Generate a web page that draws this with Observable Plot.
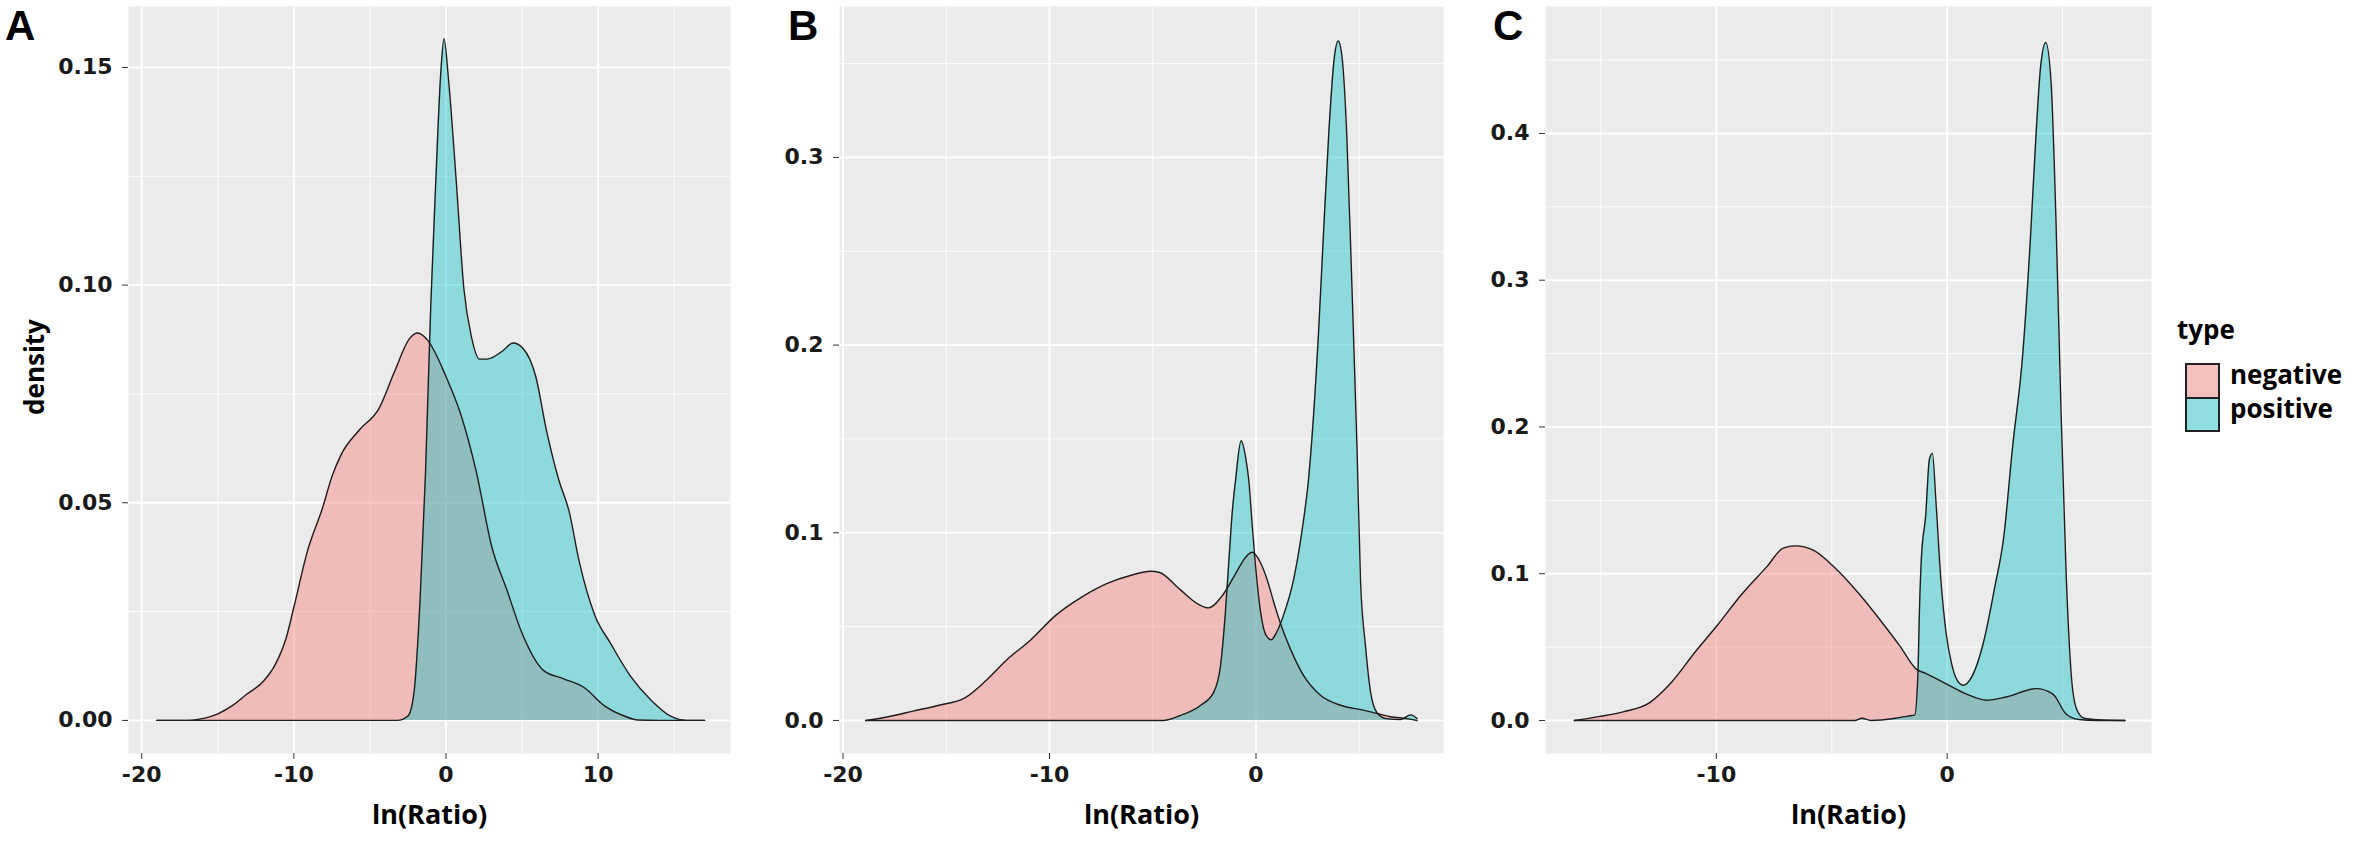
<!DOCTYPE html>
<html>
<head>
<meta charset="utf-8">
<script src="https://cdn.jsdelivr.net/npm/d3@7"></script>
<script src="https://cdn.jsdelivr.net/npm/@observablehq/plot@0.6"></script>
<style>
  body { margin: 0; background: #fff; }
  #root { position: relative; width: 2369px; height: 854px; overflow: hidden; background: #fff; }
  .panel { position: absolute; top: 0; }
  .letter { position: absolute; top: 2px; font-family: "Liberation Sans", Arial, sans-serif; font-weight: bold; font-size: 42px; line-height: normal; color: #000; }
  .legend-title { position: absolute; font-family: "Open Sans", sans-serif; font-weight: bold; font-size: 26px; color: #000; line-height: 1; }
  .legend-label { position: absolute; font-family: "Open Sans", sans-serif; font-weight: bold; font-size: 26px; color: #000; line-height: 1; }
  .key { position: absolute; box-sizing: border-box; border: 2px solid #222; }
</style>
</head>
<body>
<div id="root"></div>
<script>
// ---------- data ----------
const types = ["negative", "positive"];
const typeColors = ["#F8766D", "#00BFC4"];

// Panel A
const aNegX = [-19, -17, -16.2, -15, -14, -13.1, -12, -11.2, -10.5, -10, -9.1, -8.1, -7.5, -6.9, -5.7, -4.4, -3.4, -2.4, -1.85, -1.2, 0, 1, 2, 3, 4, 5, 6.4, 7.7, 9.1, 10.4, 11.8, 12.6, 14, 17];
const aNegY = [0, 0, 0.0003, 0.0015, 0.0035, 0.006, 0.009, 0.013, 0.019, 0.026, 0.039, 0.049, 0.056, 0.061, 0.0667, 0.0717, 0.080, 0.0877, 0.089, 0.0873, 0.079, 0.070, 0.057, 0.040, 0.030, 0.020, 0.0115, 0.0096, 0.0075, 0.0034, 0.0009, 0.0001, 0, 0];
const aPosX = [-19, -3.2, -2.5, -2.1, -1.7, -1.35, -1.0, -0.67, -0.34, -0.13, 0.17, 0.67, 1.18, 1.68, 2.2, 2.7, 3.7, 4.4, 5.05, 5.9, 6.6, 7.4, 8.1, 8.75, 9.8, 10.8, 12.1, 13.5, 14.8, 15.8, 17];
const aPosY = [0, 0, 0.001, 0.0065, 0.028, 0.0566, 0.0955, 0.124, 0.149, 0.1566, 0.147, 0.124, 0.099, 0.088, 0.083, 0.083, 0.0848, 0.0867, 0.0855, 0.079, 0.0667, 0.0554, 0.0479, 0.0366, 0.024, 0.0178, 0.0103, 0.0046, 0.0009, 0, 0];

// Panel B
const bNegX = [-18.9, -17.8, -16.6, -15.4, -14.1, -13.1, -12.1, -10.9, -9.7, -8.4, -7.2, -6.0, -5.1, -4.7, -3.7, -2.8, -2.3, -1.6, -1.0, -0.5, -0.19, 0.22, 0.54, 0.86, 1.19, 1.67, 2.3, 3.12, 4.09, 5.2, 5.87, 6.5, 7.3, 7.8];
const bNegY = [0, 0.002, 0.005, 0.008, 0.012, 0.021, 0.032, 0.043, 0.056, 0.066, 0.073, 0.0775, 0.0795, 0.079, 0.070, 0.062, 0.060, 0.067, 0.078, 0.087, 0.0896, 0.084, 0.075, 0.063, 0.0515, 0.038, 0.024, 0.0134, 0.0081, 0.0055, 0.0037, 0.002, 0.001, 0];
const bPosX = [-18.9, -4.5, -3.66, -2.69, -2.05, -1.72, -1.48, -1.32, -1.15, -0.99, -0.72, -0.5, -0.35, -0.19, -0.02, 0.22, 0.46, 0.74, 1.0, 1.33, 1.82, 2.24, 2.54, 3.04, 3.28, 3.53, 3.78, 3.98, 4.15, 4.4, 4.64, 4.89, 5.06, 5.3, 5.55, 5.87, 6.3, 7.0, 7.5, 7.8];
const bPosY = [0, 0, 0.0027, 0.008, 0.015, 0.029, 0.058, 0.084, 0.111, 0.128, 0.149, 0.140, 0.128, 0.105, 0.082, 0.058, 0.046, 0.043, 0.047, 0.056, 0.075, 0.102, 0.128, 0.209, 0.262, 0.314, 0.352, 0.362, 0.355, 0.311, 0.233, 0.146, 0.075, 0.040, 0.015, 0.004, 0.001, 0.0005, 0.003, 0.001];

// Panel C
const cNegX = [-16.15, -15.1, -14.0, -12.9, -12.0, -10.9, -10.0, -8.9, -7.8, -7.1, -6.57, -5.8, -4.9, -3.8, -2.93, -2.06, -1.34, -0.91, -0.04, 0.83, 1.7, 2.56, 3.86, 4.58, 5.15, 5.7, 6.5, 7.7];
const cNegY = [0, 0.0026, 0.006, 0.012, 0.025, 0.047, 0.064, 0.086, 0.105, 0.1175, 0.119, 0.116, 0.1046, 0.086, 0.069, 0.051, 0.035, 0.032, 0.025, 0.018, 0.0138, 0.016, 0.0217, 0.018, 0.0044, 0.0007, 0, 0];
const cPosX = [-16.15, -4.0, -3.7, -3.3, -2.25, -1.7, -1.41, -1.27, -1.2, -1.12, -0.93, -0.77, -0.64, -0.49, -0.27, -0.05, 0.2, 0.45, 0.7, 1.0, 1.6, 2.05, 2.45, 2.83, 3.27, 3.6, 3.83, 4.05, 4.27, 4.5, 4.71, 4.93, 5.15, 5.38, 5.6, 5.93, 6.5, 7.7];
const cPosY = [0, 0, 0.0015, 0, 0.0015, 0.003, 0.0036, 0.031, 0.076, 0.11, 0.140, 0.178, 0.182, 0.150, 0.095, 0.060, 0.038, 0.027, 0.024, 0.028, 0.055, 0.090, 0.125, 0.186, 0.249, 0.327, 0.394, 0.446, 0.462, 0.435, 0.342, 0.212, 0.101, 0.030, 0.008, 0.0015, 0.0005, 0];

// Axis ticks
const aXTicks = [-20, -10, 0, 10];
const aXMinor = [-15, -5, 5, 15];
const aYTicks = [0, 0.05, 0.10, 0.15];
const aYMinor = [0.025, 0.075, 0.125];
const bXTicks = [-20, -10, 0];
const bXMinor = [-15, -5, 5];
const bYTicks = [0, 0.1, 0.2, 0.3];
const bYMinor = [0.05, 0.15, 0.25, 0.35];
const cXTicks = [-10, 0];
const cXMinor = [-15, -5, 5];
const cYTicks = [0, 0.1, 0.2, 0.3, 0.4];
const cYMinor = [0.05, 0.15, 0.25, 0.35, 0.45];

const panelLetters = ["A", "B", "C"];
const xTitle = "ln(Ratio)";
const yTitle = "density";
const legendTitle = "type";

// ---------- drawing ----------
const root = document.getElementById("root");
const xFmt = d => (d < 0 ? "-" : "") + Math.abs(d);

function rowsOf(negX, negY, posX, posY) {
  return [
    ...negX.map((x, i) => ({x, y: negY[i], type: types[0]})),
    ...posX.map((x, i) => ({x, y: posY[i], type: types[1]}))
  ];
}

function panel(o) {
  const rows = rowsOf(o.negX, o.negY, o.posX, o.posY);
  const marks = [
    Plot.frame({fill: "#EBEBEB", stroke: null}),
    Plot.ruleX(o.xMinor, {stroke: "#fff", strokeWidth: 0.9}),
    Plot.ruleY(o.yMinor, {stroke: "#fff", strokeWidth: 0.9}),
    Plot.ruleX(o.xTicks, {stroke: "#fff", strokeWidth: 1.9}),
    Plot.ruleY(o.yTicks, {stroke: "#fff", strokeWidth: 1.9}),
    Plot.areaY(rows, {x: "x", y1: 0, y2: "y", z: "type", fill: "type", fillOpacity: 0.4, curve: "monotone-x"}),
    Plot.lineY(rows, {x: "x", y: "y", z: "type", stroke: "#1e1e1e", strokeWidth: 1.4, curve: "monotone-x"}),
    Plot.axisX(o.xTicks, {tickSize: 6, tickPadding: 7, fontSize: 22, fontWeight: "bold", fontFamily: "DejaVu Sans", fill: "#1a1a1a", stroke: "#333", tickFormat: xFmt, label: null}),
    Plot.axisY(o.yTicks, {tickSize: 6, tickPadding: 10, fontSize: 22, fontWeight: "bold", fontFamily: "DejaVu Sans", fill: "#1a1a1a", stroke: "#333", tickFormat: o.yFmt, label: null}),
    Plot.text([xTitle], {frameAnchor: "bottom", lineAnchor: "middle", dy: 62, fontSize: 27, fontWeight: "bold", fontFamily: "Open Sans", fill: "#000"})
  ];
  if (o.showY) {
    marks.push(Plot.text([yTitle], {frameAnchor: "left", textAnchor: "middle", lineAnchor: "middle", dx: -93, dy: -13, rotate: -90, fontSize: 26, fontWeight: "bold", fontFamily: "Open Sans", fill: "#000"}));
  }
  const chart = Plot.plot({
    width: o.width,
    height: 854,
    marginLeft: o.ml,
    marginRight: o.mr,
    marginTop: 6,
    marginBottom: 101,
    style: {background: "transparent", overflow: "visible"},
    x: {domain: o.xDomain},
    y: {domain: o.yDomain},
    color: {domain: types, range: typeColors},
    marks
  });
  const div = document.createElement("div");
  div.className = "panel";
  div.style.left = o.left + "px";
  div.appendChild(chart);
  root.appendChild(div);
}

panel({negX: aNegX, negY: aNegY, posX: aPosX, posY: aPosY, xTicks: aXTicks, xMinor: aXMinor, yTicks: aYTicks, yMinor: aYMinor,
  xDomain: [-20.87, 18.7], yDomain: [-0.0076, 0.1640], yFmt: d3.format(".2f"), left: 0, width: 760, ml: 128, mr: 30, showY: true});
panel({negX: bNegX, negY: bNegY, posX: bPosX, posY: bPosY, xTicks: bXTicks, xMinor: bXMinor, yTicks: bYTicks, yMinor: bYMinor,
  xDomain: [-20.17, 9.08], yDomain: [-0.0176, 0.3804], yFmt: d3.format(".1f"), left: 760, width: 700, ml: 79, mr: 17, showY: false});
panel({negX: cNegX, negY: cNegY, posX: cPosX, posY: cPosY, xTicks: cXTicks, xMinor: cXMinor, yTicks: cYTicks, yMinor: cYMinor,
  xDomain: [-17.4, 8.85], yDomain: [-0.0225, 0.4865], yFmt: d3.format(".1f"), left: 1470, width: 700, ml: 75, mr: 19, showY: false});

// panel letters
const letterX = [5, 788, 1493];
panelLetters.forEach((t, i) => {
  const d = document.createElement("div");
  d.className = "letter";
  d.style.left = letterX[i] + "px";
  d.textContent = t;
  root.appendChild(d);
});

// legend
const lt = document.createElement("div");
lt.className = "legend-title";
lt.style.left = "2177px"; lt.style.top = "316px";
lt.textContent = legendTitle;
root.appendChild(lt);
types.forEach((t, i) => {
  const k = document.createElement("div");
  k.className = "key";
  k.style.left = "2185px";
  k.style.top = (363 + i * 34) + "px";
  k.style.width = "35px"; k.style.height = (i === 0 ? 36 : 35) + "px";
  const c = d3.rgb(typeColors[i]);
  const bg = d3.rgb("#F2F2F2");
  const a = 0.4;
  k.style.background = d3.rgb(c.r * a + bg.r * (1 - a), c.g * a + bg.g * (1 - a), c.b * a + bg.b * (1 - a)).formatHex();
  root.appendChild(k);
  const l = document.createElement("div");
  l.className = "legend-label";
  l.style.left = "2230px";
  l.style.top = (361 + i * 34) + "px";
  l.textContent = t;
  root.appendChild(l);
});
</script>
</body>
</html>
